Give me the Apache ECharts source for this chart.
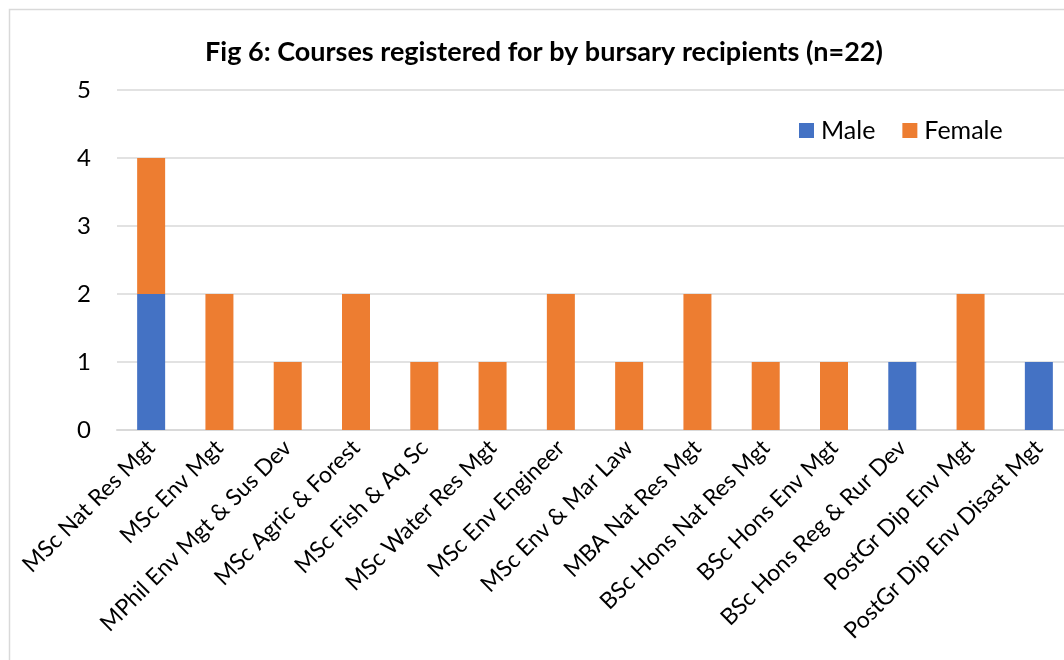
<!DOCTYPE html>
<html>
<head>
<meta charset="utf-8">
<script src="https://cdn.jsdelivr.net/npm/echarts@6/dist/echarts.min.js"></script>
<style>
  html, body { margin: 0; padding: 0; background: #fff; }
  #main { width: 1064px; height: 660px; }
</style>
</head>
<body>
<div id="main"></div>
<script>
var courses = [
  'MSc Nat Res Mgt', 'MSc Env Mgt', 'MPhil Env Mgt & Sus Dev', 'MSc Agric & Forest',
  'MSc Fish & Aq Sc', 'MSc Water Res Mgt', 'MSc Env Engineer', 'MSc Env & Mar Law',
  'MBA Nat Res Mgt', 'BSc Hons Nat Res Mgt', 'BSc Hons Env Mgt', 'BSc Hons Reg & Rur Dev',
  'PostGr Dip Env Mgt', 'PostGr Dip Env Disast Mgt'
];
var male = [2, 0, 0, 0, 0, 0, 0, 0, 0, 0, 0, 1, 0, 1];
var female = [2, 2, 1, 2, 1, 1, 2, 1, 2, 1, 1, 0, 2, 0];

var font = 'Lato, "Open Sans", sans-serif';
var chart = echarts.init(document.getElementById('main'));

chart.setOption({
  animation: false,
  backgroundColor: '#fff',
  title: {
    text: 'Fig 6: Courses registered for by bursary recipients (n=22)',
    left: 539,
    top: 34,
    textAlign: 'center',
    textStyle: { fontFamily: font, fontWeight: 'bold', fontSize: 27, color: '#000' }
  },
  legend: {
    data: ['Male', 'Female'],
    left: 794,
    top: 113,
    icon: 'rect',
    itemWidth: 15,
    itemHeight: 15,
    itemGap: 27,
    itemStyle: { borderWidth: 0 },
    textStyle: { fontFamily: font, fontSize: 25, color: '#000', padding: [0, 0, 0, 2] }
  },
  graphic: [{
    type: 'rect',
    shape: { x: 9.5, y: 9.5, width: 1100, height: 700 },
    style: { fill: 'none', stroke: '#d9d9d9', lineWidth: 1.5 },
    silent: true
  }],
  grid: { left: 117, top: 90, width: 956, bottom: 230, outerBoundsMode: 'none' },
  xAxis: {
    type: 'category',
    data: courses,
    axisLine: { lineStyle: { color: '#d9d9d9', width: 2 } },
    axisTick: { show: false },
    axisLabel: {
      interval: 0,
      rotate: 45,
      margin: 14,
      fontFamily: font,
      fontSize: 23,
      color: '#000'
    }
  },
  yAxis: {
    type: 'value',
    min: 0,
    max: 5,
    interval: 1,
    axisLine: { show: false },
    axisTick: { show: false },
    splitLine: { lineStyle: { color: '#d9d9d9', width: 1.5 } },
    axisLabel: { fontFamily: font, fontSize: 24, color: '#000', margin: 26 }
  },
  series: [{
    name: 'Male',
    type: 'bar',
    stack: 'total',
    data: male,
    barWidth: 28,
    itemStyle: { color: '#4472C4' }
  }, {
    name: 'Female',
    type: 'bar',
    stack: 'total',
    data: female,
    barWidth: 28,
    itemStyle: { color: '#ED7D31' }
  }]
});
</script>
</body>
</html>
